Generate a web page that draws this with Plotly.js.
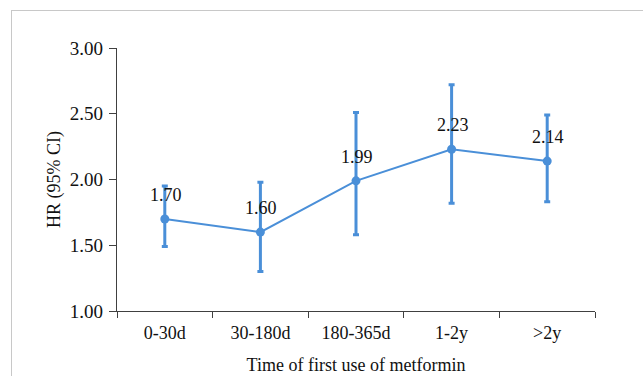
<!DOCTYPE html>
<html>
<head>
<meta charset="utf-8">
<script src="https://cdn.plot.ly/plotly-3.0.1.min.js"></script>
<style>
html,body{margin:0;padding:0;background:#fff;}
#wrap{position:relative;width:643px;height:376px;}
#chart{width:643px;height:376px;}
#frame{position:absolute;left:11px;top:10px;right:0;bottom:0;border-left:1px solid #c8c8c8;border-top:1px solid #c8c8c8;pointer-events:none;}
</style>
</head>
<body>
<div id="wrap"><div id="chart"></div><div id="frame"></div></div>
<script>
const categories = ["0-30d", "30-180d", "180-365d", "1-2y", ">2y"];
const hr = [1.70, 1.60, 1.99, 2.23, 2.14];
const ciLower = [1.49, 1.30, 1.58, 1.82, 1.83];
const ciUpper = [1.95, 1.98, 2.51, 2.72, 2.49];
const yTicks = [1.00, 1.50, 2.00, 2.50, 3.00];
const yTickText = ["1.00", "1.50", "2.00", "2.50", "3.00"];

const blue = "#4a8fd8";
const fam = "'Liberation Serif', 'Times New Roman', serif";
const font = {family: fam, size: 18, color: "#111"};
const yTickFont = {family: fam, size: 19, color: "#111"};

const trace = {
  x: categories,
  y: hr,
  type: "scatter",
  mode: "lines+markers",
  line: {color: blue, width: 2},
  marker: {color: blue, size: 9},
  error_y: {
    type: "data",
    symmetric: false,
    array: hr.map((v, i) => ciUpper[i] - v),
    arrayminus: hr.map((v, i) => v - ciLower[i]),
    color: blue,
    thickness: 3,
    width: 3
  },
  hoverinfo: "skip"
};

const annotations = categories.map((c, i) => ({
  x: c, y: hr[i], xref: "x", yref: "y",
  text: hr[i].toFixed(2), showarrow: false,
  yshift: 24, xshift: 1,
  font: font
}));

const layout = {
  width: 643, height: 376,
  margin: {l: 117, r: 48, t: 48, b: 65},
  paper_bgcolor: "#fff", plot_bgcolor: "#fff",
  showlegend: false,
  font: font,
  xaxis: {
    type: "category",
    range: [-0.5, 4.5],
    showline: true, linecolor: "#404040", linewidth: 1.3,
    ticks: "outside", tickson: "boundaries", ticklen: 6, tickcolor: "#404040",
    ticklabelstandoff: 5,
    showgrid: false, zeroline: false,
    tickfont: font,
    title: {text: "Time of first use of metformin", font: font, standoff: 16}
  },
  yaxis: {
    range: [1, 3],
    tickvals: yTicks, ticktext: yTickText,
    showline: true, linecolor: "#404040", linewidth: 1.3,
    ticks: "outside", ticklen: 7, tickcolor: "#404040",
    ticklabelstandoff: 2,
    showgrid: false, zeroline: false,
    tickfont: yTickFont,
    title: {text: "HR (95% CI)", font: font, standoff: 4}
  },
  annotations: annotations
};

Plotly.newPlot("chart", [trace], layout, {displayModeBar: false, staticPlot: true});
</script>
</body>
</html>
